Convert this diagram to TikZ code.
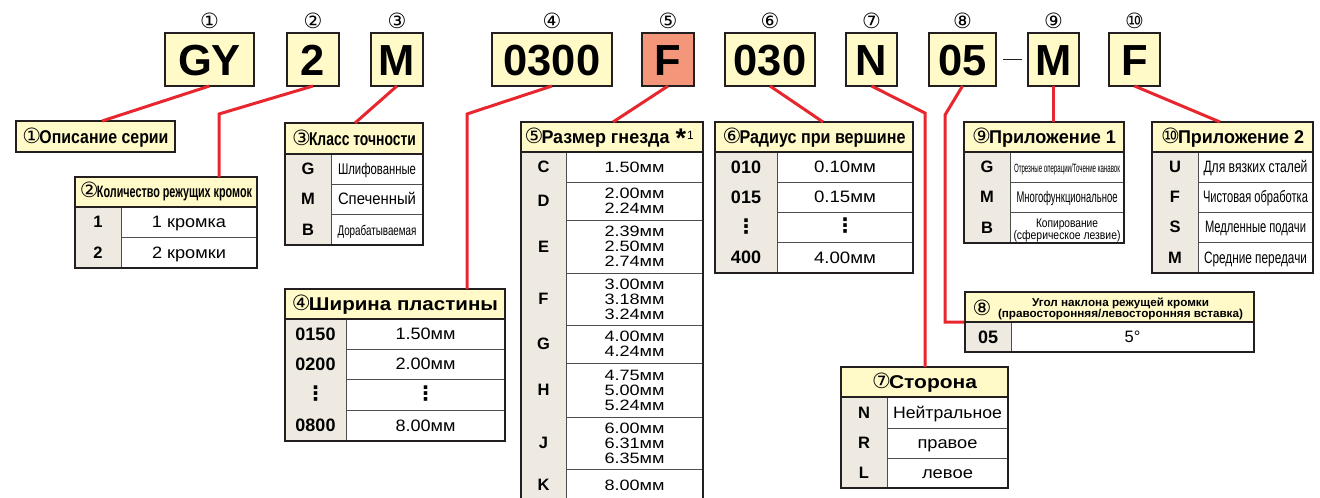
\documentclass[tikz,border=0pt]{standalone}
\usepackage{fontspec}
\usepackage{graphicx}
\setmainfont{Liberation Sans}
\newfontfamily\dvs{DejaVu Sans}
\newcommand\fs[1]{\fontsize{#1}{#1}\selectfont}
% circled index inside a title: fixed-width slot, thin weight
\newcommand\cn[1]{\makebox[17pt][l]{\dvs\mdseries\fs{21}#1}}
\newcommand\sx[2]{\resizebox{#1pt}{\height}{#2}}
\newcommand\vdt{{\dvs\bfseries\fs{20}⋮}}
\definecolor{codefill}{HTML}{FFFAC8}
\definecolor{salmon}{HTML}{F4967A}
\definecolor{keyfill}{HTML}{EEEAE1}
\definecolor{redline}{HTML}{E8262E}
\definecolor{ink}{HTML}{231F20}
\definecolor{rulegray}{HTML}{4D4D4D}

% one table row: key cell fill and lower rule
\newcommand\rowbg[5]{%
  \fill[keyfill] (#1,#4) rectangle (#2,#5);
  \draw[inner] (#1,#5) -- (#3,#5);}
% name, x-left, x-divider, x-right, y-top, y-bottom, key, value
\newcommand\cellrow[8]{%
  \rowbg{#2}{#3}{#4}{#5}{#6}
  \node[keytext] (#1-k) at ({(#2+#3)/2},{(#5+#6)/2}) {#7};
  \node[valtext] (#1-v) at ({(#3+#4)/2},{(#5+#6)/2}) {#8};}
% column divider and outer frame of a table body
\newcommand\tframe[5]{%
  \draw[inner] (#2,#4) -- (#2,#5);
  \draw[frame] (#1,#4) rectangle (#3,#5);}
% rows of the seat size table: name, y-top, y-bottom, key, values, count
\newcommand\szrow[6]{%
  \rowbg{521}{566}{703}{#2}{#3}
  \node[keytext] (#1-k) at (543.5,{(#2+#3)/2}) {#4};
  \foreach \v [count=\i] in {#5}
    \node[valtext, font=\fs{15}, text height=10.8pt] (#1-\i)
      at (634.5,{(#2+#3)/2+(\i-(#6+1)/2)*15}) {\sx{60}{\v}};}

\begin{document}
\begin{tikzpicture}[x=1pt,y=-1pt,
  code/.style={draw=ink, line width=1.6pt, fill=codefill, minimum height=53pt,
    inner sep=0pt, outer sep=0pt, anchor=north west,
    font=\fs{43.5}\bfseries, text height=31pt, text depth=0pt},
  circ/.style={font=\fs{21}\dvs, inner sep=0pt},
  title/.style={draw=ink, line width=1.5pt, fill=codefill, inner sep=0pt,
    outer sep=0pt, anchor=north west, font=\fs{18.5}\bfseries,
    text height=13.2pt, text depth=0pt},
  keytext/.style={font=\fs{16.5}\bfseries, text height=11.8pt, text depth=0pt, inner sep=0pt},
  valtext/.style={font=\fs{16.5}, text height=11.8pt, text depth=0pt, inner sep=0pt},
  inner/.style={draw=rulegray, line width=0.9pt},
  frame/.style={draw=ink, line width=1.6pt},
  conn/.style={draw=redline, line width=3pt},
  numkeys/.style={keytext/.append style={font=\fs{18}\bfseries, text height=12.9pt}}]
\useasboundingbox (0,0) rectangle (1320,498);

% ---- code boxes ----
\node[code, minimum width=89pt] (c1) at (165,33) {GY};
\node[code, minimum width=52pt] (c2) at (287,33) {2};
\node[code, minimum width=52pt] (c3) at (371,33) {M};
\node[code, minimum width=120pt] (c4) at (492,33) {0300};
\node[code, minimum width=52pt, fill=salmon] (c5) at (642,33) {F};
\node[code, minimum width=90pt] (c6) at (725,33) {030};
\node[code, minimum width=51pt] (c7) at (846,33) {N};
\node[code, minimum width=67pt] (c8) at (929,33) {05};
\node[code, minimum width=51pt] (c9) at (1028,33) {M};
\node[code, minimum width=51pt] (c10) at (1109,33) {F};
\draw[draw=ink, line width=1.5pt] ([xshift=7pt]c8.east) -- ([xshift=-6pt]c9.west);

\node[circ] (n1) at ([yshift=12pt]c1.north) {①};
\node[circ] (n2) at ([yshift=12pt]c2.north) {②};
\node[circ] (n3) at ([yshift=12pt]c3.north) {③};
\node[circ] (n4) at ([yshift=12pt]c4.north) {④};
\node[circ] (n5) at ([yshift=12pt]c5.north) {⑤};
\node[circ] (n6) at ([yshift=12pt]c6.north) {⑥};
\node[circ] (n7) at ([yshift=12pt]c7.north) {⑦};
\node[circ] (n8) at ([yshift=12pt]c8.north) {⑧};
\node[circ] (n9) at ([yshift=12pt]c9.north) {⑨};
\node[circ] (n10) at ([yshift=12pt]c10.north) {⑩};

% ---- title boxes ----
\node[title, minimum width=159pt, minimum height=31pt] (t1) at (16,121)
  {\cn{①}\sx{129}{Описание серии}};
\node[title, minimum width=182pt, minimum height=30pt, font=\fs{16.5}\bfseries,
  text height=11.8pt] (t2) at (75,177) {\cn{②}\sx{155}{Количество режущих кромок}};
\node[title, minimum width=138pt, minimum height=31pt] (t3) at (285,123)
  {\cn{③}\sx{107}{Класс точности}};
\node[title, minimum width=220pt, minimum height=30pt] (t4) at (285,289)
  {\cn{④}\sx{189}{Ширина пластины}};
\node[title, minimum width=182pt, minimum height=30pt] (t5) at (521,122)
  {\makebox[175pt][l]{\cn{⑤}\sx{128}{Размер гнезда}\hspace{6pt}\raisebox{-4pt}{\fs{27}*}\hspace{1pt}\raisebox{4pt}{\fs{12}\mdseries 1}}};
\node[title, minimum width=198pt, minimum height=30pt] (t6) at (715,122)
  {\cn{⑥}\sx{166}{Радиус при вершине}};
\node[title, minimum width=167pt, minimum height=30pt] (t7) at (841,367)
  {\cn{⑦}\sx{88}{Сторона}};
\node[title, minimum width=289pt, minimum height=30pt] (t8) at (965,292) {};
\node[title, minimum width=160pt, minimum height=30pt] (t9) at (964,122)
  {\cn{⑨}\sx{127}{Приложение 1}};
\node[title, minimum width=161pt, minimum height=30pt] (t10) at (1152,122)
  {\cn{⑩}\sx{126}{Приложение 2}};

% ---- connectors ----
\coordinate (b2) at (219,114);
\coordinate (b4) at (467,114);
\coordinate (b7) at (925,113);
\coordinate (b8) at (945,115);
\draw[conn] (c1.south) -- (t1.north -| 102,0);
\draw[conn] (c2.south) -- (b2) -- (t2.north -| b2);
\draw[conn] (c3.south) -- (t3.north -| 355,0);
\draw[conn] (c4.south) -- (b4) -- (t4.north -| b4);
\draw[conn] (c5.south) -- (t5.north -| 613,0);
\draw[conn] (c6.south) -- (t6.north -| 823,0);
\draw[conn] (c7.south) -- (b7) -- (t7.north -| b7);
\draw[conn] (c8.south) -- (b8) -- (b8 |- t8.south west) -- (t8.south west);
\draw[conn] (c9.south) -- (t9.north -| c9.south);
\draw[conn] (c10.south) -- (t10.north -| 1220,0);

% ---- (2) number of cutting edges ----
\cellrow{r21}{75}{121}{257}{207}{237}{1}{\sx{74}{1 кромка}}
\cellrow{r22}{75}{121}{257}{237}{268}{2}{\sx{74}{2 кромки}}
\tframe{75}{121}{257}{207}{268}

% ---- (3) accuracy class ----
\cellrow{r31}{285}{331}{423}{154}{184}{G}{\fs{15.5}\sx{78}{Шлифованные}}
\cellrow{r32}{285}{331}{423}{184}{214}{M}{\sx{78}{Спеченный}}
\cellrow{r33}{285}{331}{423}{214}{245}{B}{\fs{14}\sx{79}{Дорабатываемая}}
\tframe{285}{331}{423}{154}{245}

% ---- (4) insert width ----
\begin{scope}[numkeys]
\cellrow{r41}{285}{346}{505}{319}{349}{0150}{\sx{60}{1.50мм}}
\cellrow{r42}{285}{346}{505}{349}{379}{0200}{\sx{60}{2.00мм}}
\cellrow{r43}{285}{346}{505}{379}{410}{\vdt}{\vdt}
\cellrow{r44}{285}{346}{505}{410}{441}{0800}{\sx{60}{8.00мм}}
\end{scope}
\tframe{285}{346}{505}{319}{441}

% ---- (5) seat size ----
\szrow{r5c}{152}{182}{C}{1.50мм}{1}
\szrow{r5d}{182}{220}{D}{2.00мм,2.24мм}{2}
\szrow{r5e}{220}{273}{E}{2.39мм,2.50мм,2.74мм}{3}
\szrow{r5f}{273}{325}{F}{3.00мм,3.18мм,3.24мм}{3}
\szrow{r5g}{325}{363}{G}{4.00мм,4.24мм}{2}
\szrow{r5h}{363}{417}{H}{4.75мм,5.00мм,5.24мм}{3}
\szrow{r5j}{417}{469}{J}{6.00мм,6.31мм,6.35мм}{3}
\szrow{r5k}{469}{501}{K}{8.00мм}{1}
\tframe{521}{566}{703}{152}{501}

% ---- (6) corner radius ----
\begin{scope}[numkeys]
\cellrow{r61}{715}{777}{913}{152}{182}{010}{\sx{62}{0.10мм}}
\cellrow{r62}{715}{777}{913}{182}{212}{015}{\sx{62}{0.15мм}}
\cellrow{r63}{715}{777}{913}{212}{242}{\vdt}{\vdt}
\cellrow{r64}{715}{777}{913}{242}{273}{400}{\sx{62}{4.00мм}}
\end{scope}
\tframe{715}{777}{913}{152}{273}

% ---- (7) hand ----
\cellrow{r71}{841}{887}{1008}{397}{428}{N}{\sx{109}{Нейтральное}}
\cellrow{r72}{841}{887}{1008}{428}{458}{R}{\sx{60}{правое}}
\cellrow{r73}{841}{887}{1008}{458}{488}{L}{\sx{51}{левое}}
\tframe{841}{887}{1008}{397}{488}

% ---- (8) cutting edge inclination ----
\node[font=\fs{21}\dvs, inner sep=0pt] (t8n) at (982,308) {⑧};
\node[font=\fs{11.5}\bfseries, text height=8.3pt, text depth=0pt, inner sep=0pt] (t8a)
  at (1120.5,302.5) {\sx{177}{Угол наклона режущей кромки}};
\node[font=\fs{11.5}\bfseries, text height=8.3pt, text depth=0pt, inner sep=0pt] (t8b)
  at (1120.5,313.5) {\sx{245}{(правосторонняя/левосторонняя вставка)}};
\begin{scope}[numkeys]
\cellrow{r81}{965}{1011}{1254}{322}{352}{05}{5°}
\end{scope}
\tframe{965}{1011}{1254}{322}{352}

% ---- (9) application 1 ----
\cellrow{r91}{964}{1010}{1124}{152}{182}{G}{\fs{12}\sx{106}{Отрезные операции/Точение канавок}}
\cellrow{r92}{964}{1010}{1124}{182}{212}{M}{\fs{15.5}\sx{101}{Многофункциональное}}
\rowbg{964}{1010}{1124}{212}{243}
\node[keytext] (r93-k) at (987,227.5) {B};
\node[valtext, font=\fs{12.5}, text height=9pt] (r93-v1) at (1067,223) {\sx{62}{Копирование}};
\node[valtext, font=\fs{12.5}, text height=9pt] (r93-v2) at (1067,235) {\sx{107}{(сферическое лезвие)}};
\tframe{964}{1010}{1124}{152}{243}

% ---- (10) application 2 ----
\cellrow{r101}{1152}{1198}{1313}{152}{182}{U}{\sx{104}{Для вязких сталей}}
\cellrow{r102}{1152}{1198}{1313}{182}{212}{F}{\sx{105}{Чистовая обработка}}
\cellrow{r103}{1152}{1198}{1313}{212}{242}{S}{\sx{101}{Медленные подачи}}
\cellrow{r104}{1152}{1198}{1313}{242}{273}{M}{\sx{103}{Средние передачи}}
\tframe{1152}{1198}{1313}{152}{273}
\end{tikzpicture}
\end{document}
